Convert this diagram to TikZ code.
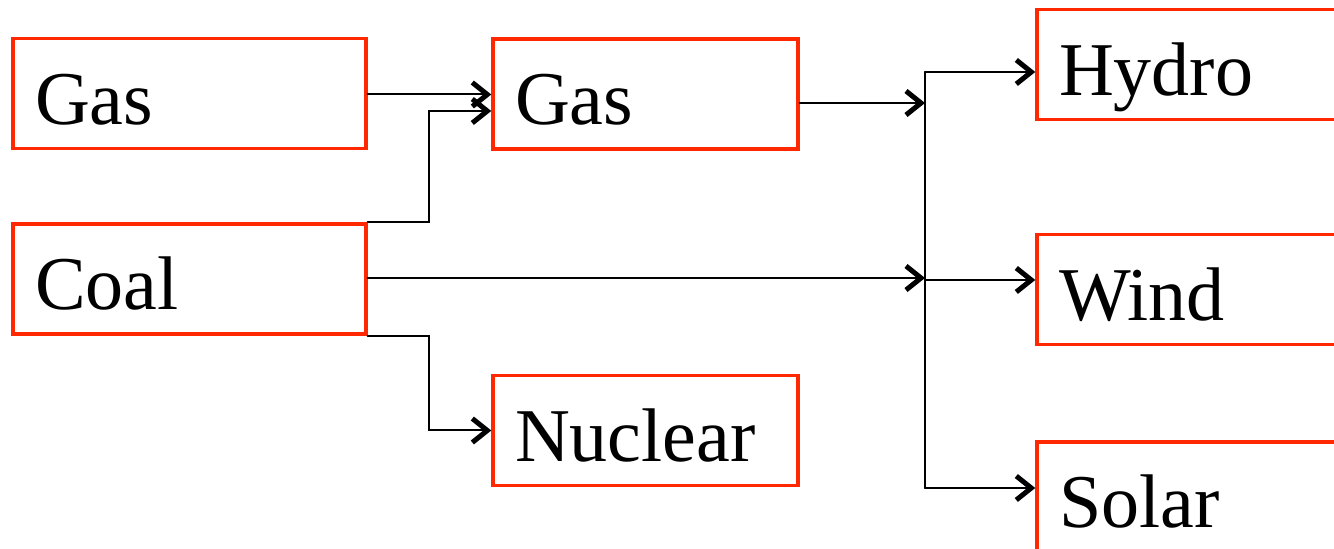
\documentclass[tikz,border=0pt]{standalone}
\usepackage{fontspec}
\setmainfont{Liberation Serif}
\usetikzlibrary{arrows.meta}
\definecolor{boxred}{RGB}{255,40,0}
\begin{document}
\begin{tikzpicture}[x=1pt,y=1pt,
	box/.style={draw=boxred,line width=3.4pt,minimum height=110pt,
		inner xsep=22pt,inner ysep=0pt,text height=86pt,text depth=24pt,
		align=left,font=\fontsize{76}{80}\selectfont},
	wire/.style={line width=2pt,line cap=round},
	tip/.style={wire,-{Straight Barb[length=15pt,width=24pt,line width=5pt]}}]
\useasboundingbox (0,0) rectangle (1334,549);

\node[box,text width=309pt] (gasA) at (189.5,455.5) {Gas};
\node[box,text width=309pt] (coal) at (189.5,270) {Coal};
\node[box,text width=261pt] (gasB) at (645.5,455) {Gas};
\node[box,text width=261pt] (nuclear) at (645.5,118.5) {Nuclear};
\node[box,text width=276pt] (hydro) at (1197,484.5) {Hydro};
\node[box,text width=276pt] (wind) at (1197,259.5) {Wind};
\node[box,text width=276pt] (solar) at (1197,52) {Solar};

\coordinate (busL) at (429,0);
\coordinate (busR) at (925,0);
\coordinate (hIn) at ([yshift=-7.5pt]hydro.west);
\coordinate (wIn) at ([yshift=9.5pt]wind.west);
\coordinate (sIn) at ([yshift=9pt]solar.west);

% left column
\draw[tip] ([yshift=-1pt]gasA.east) -- ([yshift=-1pt]gasA.east -| gasB.west);
\draw[tip] (coal.north east) -- (coal.north east -| busL)
	|- ([yshift=-17pt]gasB.west);
\draw[tip] (coal.south east) -- (coal.south east -| busL) |- (nuclear.west);

% into the bus
\draw[tip] ([yshift=1pt]coal.east) -- ([yshift=1pt]coal.east -| busR);
\draw[tip] ([yshift=-9pt]gasB.east) -- ([yshift=-9pt]gasB.east -| busR);

% bus
\draw[wire] (hIn -| busR) -- (sIn -| busR);
\foreach \t in {hIn,wIn,sIn}{
	\draw[tip] (\t -| busR) -- (\t);
}

\end{tikzpicture}
\end{document}
